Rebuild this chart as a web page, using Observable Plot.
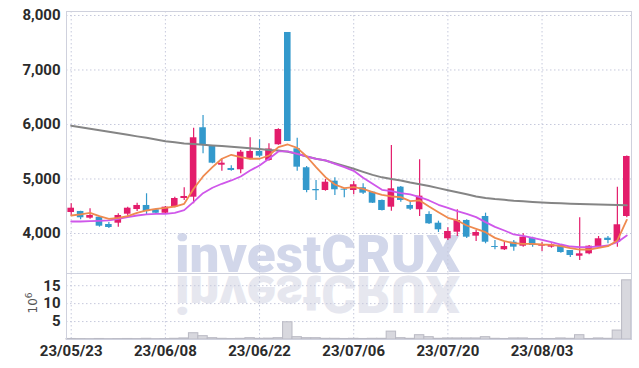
<!DOCTYPE html>
<html><head><meta charset="utf-8">
<script src="https://cdn.jsdelivr.net/npm/d3@7"></script>
<script src="https://cdn.jsdelivr.net/npm/@observablehq/plot@0.6"></script>
<style>
html,body{margin:0;padding:0;background:#fff;}
#chart{position:relative;width:639px;height:368px;overflow:hidden;}
#chart svg{position:absolute;left:0;}
</style></head><body><div id="chart"></div>
<script>
// ---- data ----
const dates = ["23/05/23","23/05/24","23/05/25","23/05/26","23/05/30","23/05/31","23/06/01","23/06/02","23/06/05","23/06/07",
"23/06/08","23/06/09","23/06/12","23/06/13","23/06/14","23/06/15","23/06/16","23/06/19","23/06/20","23/06/21",
"23/06/22","23/06/23","23/06/26","23/06/27","23/06/28","23/06/29","23/06/30","23/07/03","23/07/04","23/07/05",
"23/07/06","23/07/07","23/07/10","23/07/11","23/07/12","23/07/13","23/07/14","23/07/17","23/07/18","23/07/19",
"23/07/20","23/07/21","23/07/24","23/07/25","23/07/26","23/07/27","23/07/28","23/07/31","23/08/01","23/08/02",
"23/08/03","23/08/04","23/08/07","23/08/08","23/08/09","23/08/10","23/08/11","23/08/14","23/08/16","23/08/17"];
const open  = [4385,4404,4281,4299,4165,4189,4354,4440,4514,4435,4372,4483,4642,4666,5940,5602,5253,5193,5169,5371,5505,5340,5628,7688,5554,5206,4807,4789,4960,4813,4789,4839,4758,4606,4483,4850,4514,4435,4349,4189,3903,4024,4239,3951,4312,3761,3701,3840,3767,3914,3767,3749,3780,3688,3583,3627,3749,3914,3840,4312];
const close = [4464,4288,4330,4134,4110,4330,4464,4514,4404,4372,4483,4642,4679,5756,5628,5290,5290,5156,5492,5505,5418,5550,5908,5688,5217,4789,4784,4941,4802,4795,4894,4740,4556,4422,4820,4606,4446,4685,4178,4068,4037,4239,3932,4018,3840,3743,3761,3749,3932,3780,3793,3793,3651,3596,3627,3767,3903,3872,4160,5413];
const high  = [4545,4410,4453,4310,4202,4361,4483,4556,4729,4440,4495,4666,4839,5932,6165,5610,5371,5242,5523,5756,5719,5646,5920,7688,5749,5229,4973,4991,5022,4820,4954,4912,4765,4615,5615,4862,4575,5352,4398,4226,4105,4435,4251,4055,4373,3872,3841,3872,3994,3932,3840,3810,3785,3690,4288,3780,3945,3945,4850,5420];
const low   = [4325,4251,4262,4116,4092,4116,4318,4404,4330,4365,4361,4471,4606,4545,5462,5280,5143,5143,5095,5352,5389,5327,5620,5688,5143,4747,4606,4776,4697,4655,4710,4716,4550,4415,4409,4575,4422,4312,4165,4018,3872,3945,3908,3853,3811,3701,3688,3675,3749,3749,3670,3730,3639,3560,3505,3608,3730,3810,3749,4288];
const volume = [0.15,0.12,0.1,0.15,0.1,0.12,0.15,0.12,0.2,0.1,0.12,0.2,0.3,1.75,0.93,0.37,0.2,0.15,0.2,0.37,0.2,0.25,0.37,4.8,0.65,0.37,0.37,0.2,0.2,0.15,0.2,0.15,0.2,0.2,2.2,0.37,0.2,1.2,0.65,0.2,0.3,0.3,0.3,0.3,0.65,0.2,0.15,0.3,0.3,0.15,0.15,0.15,0.3,0.2,1.2,0.15,0.3,0.2,2.5,16.5];
const maShort = [4330,4349,4380,4318,4270,4288,4318,4380,4422,4453,4471,4495,4545,4820,5046,5217,5371,5444,5400,5371,5371,5431,5584,5633,5572,5413,5217,5033,4899,4831,4850,4820,4758,4710,4679,4666,4593,4606,4495,4391,4288,4239,4147,4086,4024,3920,3859,3822,3811,3811,3798,3793,3767,3730,3706,3706,3737,3767,3872,4251];
const maMid = [4220,4220,4226,4233,4239,4270,4300,4330,4349,4361,4361,4380,4430,4580,4740,4839,4912,4973,5046,5156,5248,5371,5505,5505,5462,5413,5371,5340,5279,5217,5150,5022,4912,4802,4776,4740,4716,4666,4606,4527,4471,4409,4361,4300,4208,4122,4055,3982,3958,3921,3884,3840,3798,3761,3749,3749,3761,3780,3840,3963];
const maLong = [5976,5948,5920,5893,5865,5838,5810,5782,5755,5725,5694,5672,5652,5640,5628,5616,5604,5592,5580,5566,5550,5533,5523,5500,5462,5413,5371,5340,5290,5240,5187,5130,5075,5030,5000,4973,4935,4905,4870,4832,4795,4757,4720,4680,4650,4632,4618,4600,4590,4578,4568,4560,4554,4548,4542,4536,4532,4528,4524,4520];
const priceTicks = [4000,5000,6000,7000,8000];
const volumeTicks = [5,10,15];
const dateTickIndex = [0,10,20,30,40,50];

// ---- build rows ----
const rows = dates.map((d,i)=>({i, date:d, open:open[i], close:close[i], high:high[i], low:low[i], vol:volume[i]}));
const UP = "#e31c6b", DOWN = "#3399cc";
const GRID = "#c6c9dc";
const FRAME = "#cfd1dd";
const FONT = "'Liberation Sans Narrow', 'Roboto', sans-serif";
const xDomain = [-0.5, 59.5];
const commonStyle = {background:"transparent", fontFamily:FONT, fontSize:"15px", color:"#2b2b2b", overflow:"visible"};

const chart = document.getElementById("chart");

// watermark layer (behind)
const ns = "http://www.w3.org/2000/svg";
const wm = document.createElementNS(ns,"svg");
wm.setAttribute("width",639); wm.setAttribute("height",368); wm.style.top="0px";
wm.innerHTML = `
<text x="175" y="272" font-family="Roboto, 'Open Sans', sans-serif" font-weight="900" font-size="52" fill="#d2d7ea" textLength="285" lengthAdjust="spacingAndGlyphs">investCRUX</text>
<text x="175" y="272" transform="translate(0,548) scale(1,-1)" font-family="Roboto, 'Open Sans', sans-serif" font-weight="900" font-size="52" fill="#e6e7ef" textLength="285" lengthAdjust="spacingAndGlyphs">investCRUX</text>`;
chart.appendChild(wm);

const dotted = {stroke: GRID, strokeDasharray:"1.5,2.5", strokeWidth:1};

const price = Plot.plot({
  width:639, height:273,
  marginTop:11, marginBottom:0, marginLeft:66, marginRight:8,
  x:{type:"linear", domain:xDomain, axis:null},
  y:{domain:[3266,8073], axis:null},
  style: commonStyle,
  marks:[
    Plot.ruleY(priceTicks, dotted),
    Plot.ruleX(dateTickIndex, dotted),
    Plot.axisY(priceTicks, {tickSize:0, tickPadding:6, tickFormat:d3.format(","), label:null, fontWeight:"bold", fill:"#2b2b2b"}),
    Plot.ruleX(rows, {x:"i", y1:"low", y2:"high", stroke:d=>d.close>=d.open?UP:DOWN, strokeWidth:1.2}),
    Plot.rectY(rows, {x1:d=>d.i-0.35, x2:d=>d.i+0.35, y1:"open", y2:"close", fill:d=>d.close>=d.open?UP:DOWN}),
    Plot.lineY(maLong, {x:(d,i)=>i, y:d=>d, stroke:"#858585", strokeWidth:2}),
    Plot.lineY(maMid, {x:(d,i)=>i, y:d=>d, stroke:"#cf57ea", strokeWidth:1.8}),
    Plot.lineY(maShort, {x:(d,i)=>i, y:d=>d, stroke:"#ef8a4f", strokeWidth:1.8}),
    Plot.frame({stroke:FRAME})
  ]
});
price.style.top = "0px";
chart.appendChild(price);

const vol = Plot.plot({
  width:639, height:95,
  marginTop:0, marginBottom:29, marginLeft:66, marginRight:8,
  x:{type:"linear", domain:xDomain, axis:null},
  y:{domain:[0,18.4], axis:null},
  style: commonStyle,
  marks:[
    Plot.ruleY(volumeTicks, dotted),
    Plot.ruleX(dateTickIndex, dotted),
    Plot.rectY(rows, {x1:d=>d.i-0.5, x2:d=>d.i+0.5, y1:0, y2:"vol", fill:"#d8d8de", stroke:"#babac4", strokeWidth:1}),
    Plot.axisY(volumeTicks, {tickSize:0, tickPadding:6, label:null, fontWeight:"bold", fill:"#2b2b2b"}),
    Plot.axisX(dateTickIndex, {tickSize:0, tickPadding:6, label:null, tickFormat:i=>dates[i], fontWeight:"bold", fill:"#2b2b2b"}),
    Plot.frame({stroke:FRAME})
  ]
});
vol.style.top = "273px";
chart.appendChild(vol);

// unit label
const lab = document.createElementNS(ns,"svg");
lab.setAttribute("width",639); lab.setAttribute("height",368); lab.style.top="0px"; lab.style.pointerEvents="none";
lab.innerHTML = `<text transform="translate(37,303) rotate(-90)" text-anchor="middle" font-family="'DejaVu Sans', sans-serif" font-size="12" fill="#555">10<tspan dy="-5" font-size="9">6</tspan></text>`;
chart.appendChild(lab);
</script>
</body></html>
